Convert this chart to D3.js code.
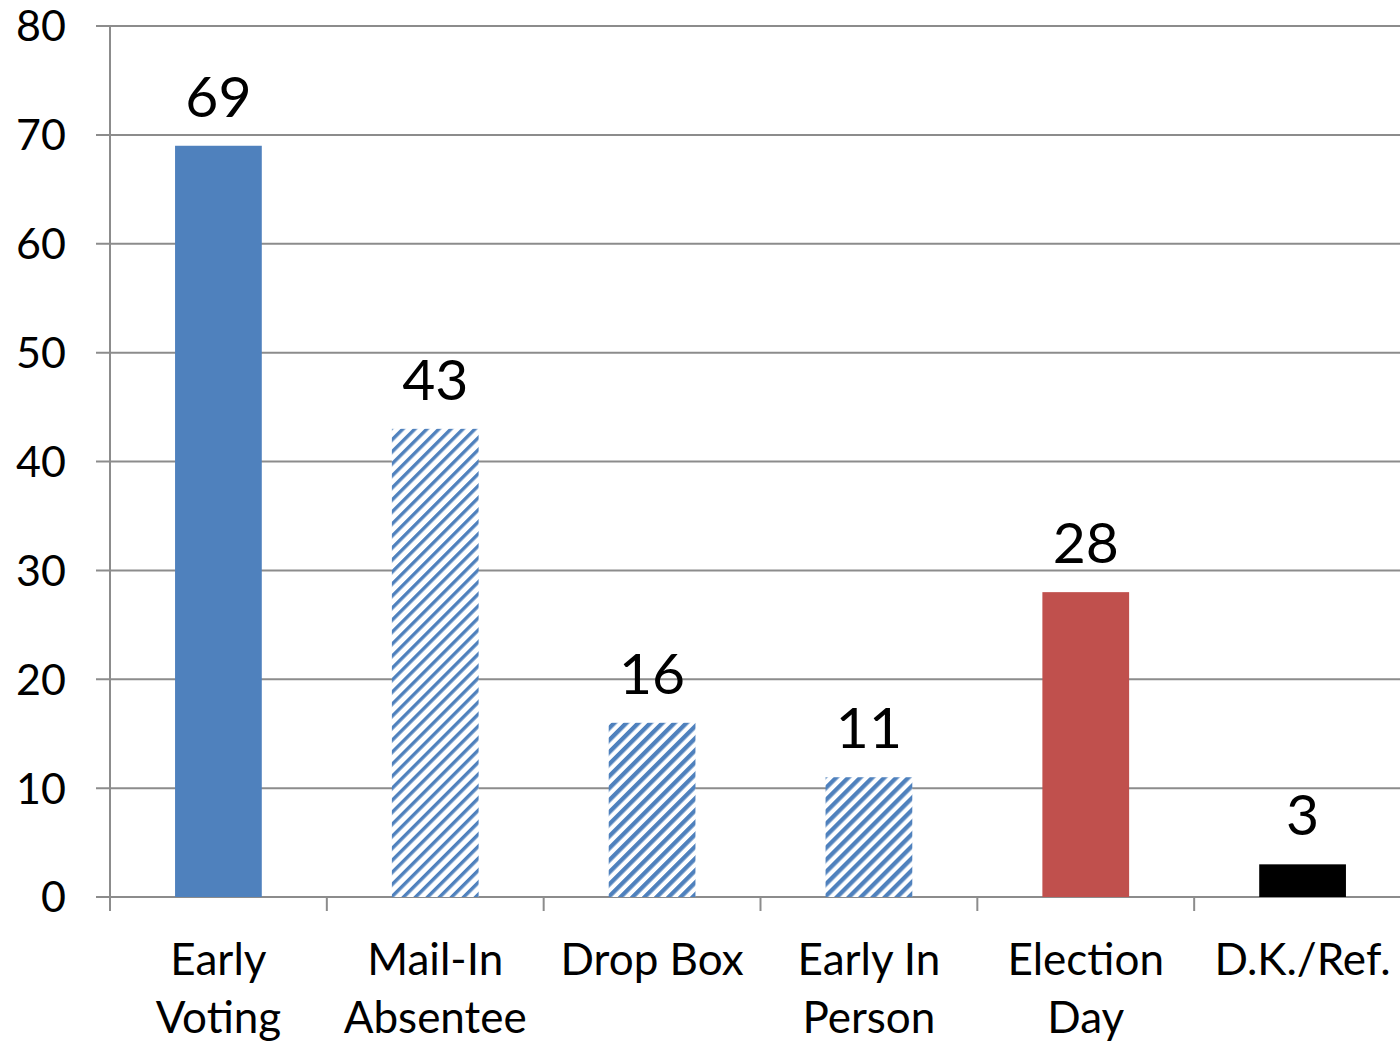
<!DOCTYPE html>
<html><head><meta charset="utf-8">
<script src="https://cdn.jsdelivr.net/npm/d3@7"></script>
<style>body{margin:0;background:#fff}svg{display:block}text{font-family:Lato,"Open Sans",sans-serif;fill:#000}</style>
</head><body><svg id="c" width="1400" height="1043"></svg>
<script>
const categories = [["Early","Voting"],["Mail-In","Absentee"],["Drop Box"],["Early In","Person"],["Election","Day"],["D.K./Ref."]];
const values = [69,43,16,11,28,3];
const fills = ["#4F81BD","url(#hatchThin)","url(#hatchWide)","url(#hatchWide)","#C0504D","#000000"];
const yTicks = [0,10,20,30,40,50,60,70,80];

const svg = d3.select("#c");
const defs = svg.append("defs");
function hatch(id, w){
  const p = defs.append("pattern").attr("id",id).attr("patternUnits","userSpaceOnUse")
    .attr("width",8.5).attr("height",8.5).attr("patternTransform","rotate(45)");
  p.append("rect").attr("width",8.5).attr("height",8.5).attr("fill","#fff");
  p.append("rect").attr("x",0).attr("y",0).attr("width",w).attr("height",8.5).attr("fill","#4F81BD");
}
hatch("hatchThin",3.4);
hatch("hatchWide",4.3);

const x = d3.scaleBand().domain(d3.range(categories.length)).range([110,1411]).padding(0);
const y = d3.scaleLinear().domain([0,80]).range([897,26]);

svg.append("g").selectAll("line").data(yTicks).join("line")
  .attr("x1",96).attr("x2",1400).attr("y1",d=>y(d)).attr("y2",d=>y(d))
  .attr("stroke","#8c8c8c").attr("stroke-width",2);
svg.append("g").selectAll("text").data(yTicks).join("text")
  .attr("x",66).attr("y",d=>y(d)).attr("dy","0.36em").attr("text-anchor","end")
  .attr("font-size",43).text(d=>d);
svg.append("line").attr("x1",110).attr("x2",110).attr("y1",26).attr("y2",911)
  .attr("stroke","#8c8c8c").attr("stroke-width",2);
svg.append("g").selectAll("line").data(d3.range(categories.length+1)).join("line")
  .attr("x1",d=>110+d*x.step()).attr("x2",d=>110+d*x.step()).attr("y1",897).attr("y2",911)
  .attr("stroke","#8c8c8c").attr("stroke-width",2);

const bw = x.bandwidth()*0.4;
svg.append("g").selectAll("rect").data(values).join("rect")
  .attr("x",(d,i)=>x(i)+x.bandwidth()/2-bw/2).attr("width",bw)
  .attr("y",d=>y(d)).attr("height",d=>y(0)-y(d)).attr("fill",(d,i)=>fills[i]);

svg.append("g").selectAll("text").data(values).join("text")
  .attr("x",(d,i)=>x(i)+x.bandwidth()/2).attr("y",d=>y(d)-29)
  .attr("text-anchor","middle").attr("font-size",57).text(d=>d);

const cl = svg.append("g").selectAll("text").data(categories).join("text")
  .attr("text-anchor","middle").attr("font-size",44);
cl.each(function(lines,i){
  d3.select(this).selectAll("tspan").data(lines).join("tspan")
    .attr("x",x(i)+x.bandwidth()/2).attr("y",(d,j)=>975+j*58).text(d=>d);
});
</script></body></html>
